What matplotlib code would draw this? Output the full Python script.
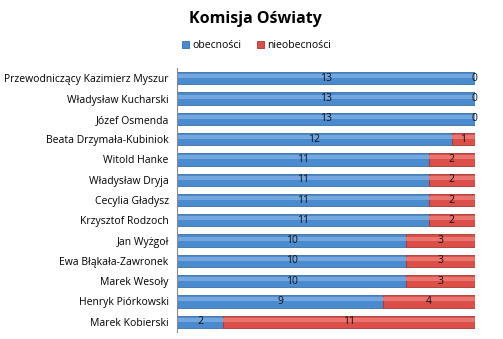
import matplotlib.pyplot as plt
import numpy as np

names = ["Przewodniczący Kazimierz Myszur", "Władysław Kucharski", "Józef Osmenda",
         "Beata Drzymała-Kubiniok", "Witold Hanke", "Władysław Dryja", "Cecylia Gładysz",
         "Krzysztof Rodzoch", "Jan Wyżgoł", "Ewa Błąkała-Zawronek", "Marek Wesoły",
         "Henryk Piórkowski", "Marek Kobierski"]
obecnosci = [13, 13, 13, 12, 11, 11, 11, 11, 10, 10, 10, 9, 2]
nieobecnosci = [0, 0, 0, 1, 2, 2, 2, 2, 3, 3, 3, 4, 11]

plt.rcParams['font.family'] = ['Open Sans', 'DejaVu Sans']

fig = plt.figure(figsize=(5.03, 3.39), dpi=100)
ax = fig.add_axes([0.352, 0.021, 0.592, 0.778])

y = np.arange(len(names))
blue = '#4a8bd0'
red = '#dc4e48'
b1 = ax.barh(y, obecnosci, height=0.6, color=blue, edgecolor='#3a6ea8', linewidth=0.6)
b2 = ax.barh(y, nieobecnosci, left=obecnosci, height=0.6, color=red, edgecolor='#a83632', linewidth=0.6)

# soft lighter band on the upper part of each bar (gradient look)
ax.barh(y - 0.1, obecnosci, height=0.2, color='#73a7de', linewidth=0)
ax.barh(y - 0.1, nieobecnosci, left=obecnosci, height=0.2, color='#e87570', linewidth=0)

for i in range(len(names)):
    ax.text(obecnosci[i] / 2, y[i], str(obecnosci[i]), ha='center', va='center', fontsize=7.5, color='#111111')
    ax.text(obecnosci[i] + nieobecnosci[i] / 2, y[i], str(nieobecnosci[i]), ha='center', va='center',
            fontsize=7.5, color='#111111')

ax.set_xlim(0, 13)
ax.set_ylim(len(names) - 0.5, -0.5)
ax.set_yticks(y)
ax.set_yticklabels(names, fontsize=7.5)
ax.tick_params(axis='y', length=0, pad=6)
ax.set_xticks([])
for s in ['top', 'right', 'bottom']:
    ax.spines[s].set_visible(False)
ax.spines['left'].set_color('#888888')
ax.spines['left'].set_linewidth(0.8)

fig.text(0.507, 0.945, "Komisja Oświaty", ha='center', va='center', fontsize=11.5, fontweight='bold')
fig.legend([b1, b2], ["obecności", "nieobecności"], loc='center', bbox_to_anchor=(0.51, 0.865),
           ncol=2, frameon=False, fontsize=7.5, handlelength=0.7, handleheight=0.7,
           handletextpad=0.3, columnspacing=1.5)

fig.savefig("out.png", dpi=100)
